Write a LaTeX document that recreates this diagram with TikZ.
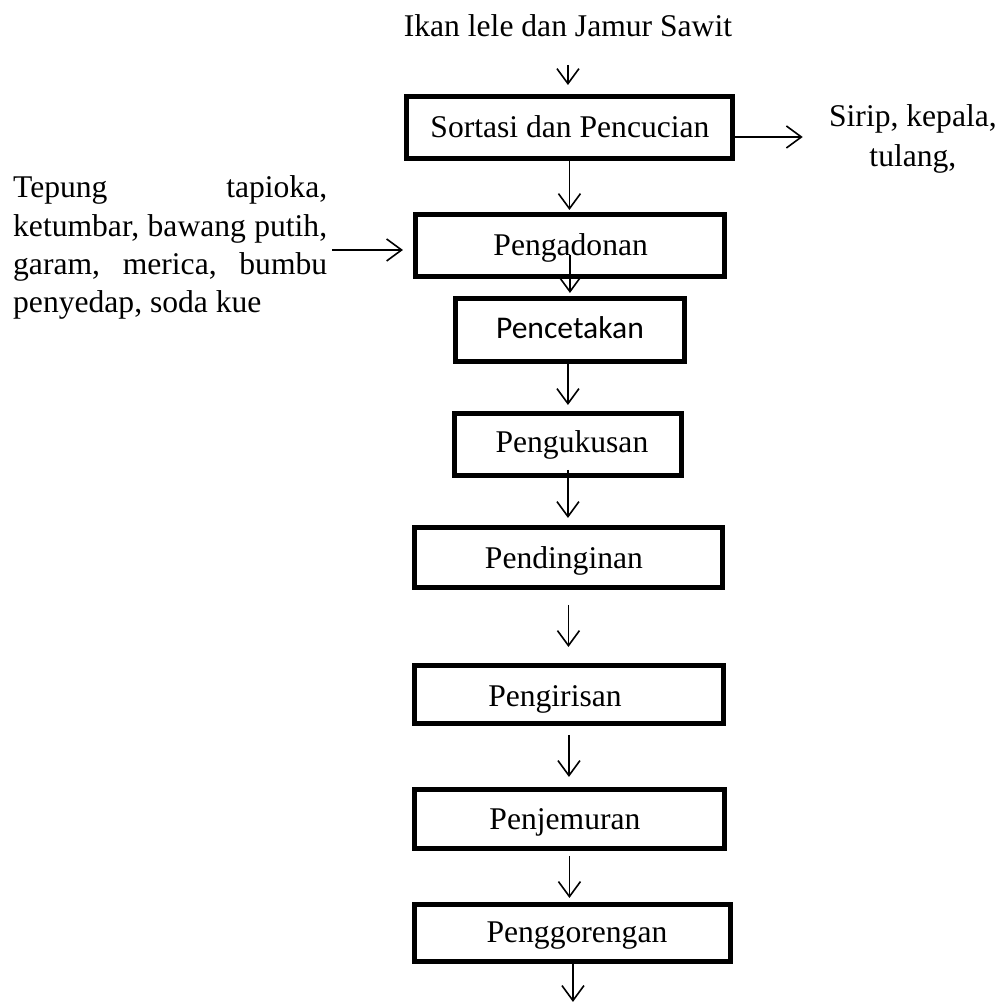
\documentclass[tikz,border=0pt]{standalone}
\usepackage{fontspec}
\setmainfont{Liberation Serif}
\newfontfamily\calibrifont{Carlito}
\usetikzlibrary{arrows.meta,calc}
\begin{document}
\begin{tikzpicture}[x=1pt,y=-1pt,
  box/.style={draw,line width=4.8pt,inner sep=0pt,rectangle},
  lbl/.style={anchor=base,inner sep=0pt,font=\fontsize{31.6}{38}\selectfont},
  arr/.style={line width=1.6pt,-{Straight Barb[length=15pt,width=22pt]}}]
\path[fill=white] (0,0) rectangle (1002,1003);

% boxes
\node[box,minimum width=326.2pt,minimum height=62.2pt] (b1) at (569.5,127.5) {};
\node[box,minimum width=309.2pt,minimum height=62.2pt] (b2) at (570,245.5) {};
\node[box,minimum width=229.2pt,minimum height=63.2pt] (b3) at (570,330) {};
\node[box,minimum width=227.2pt,minimum height=62.2pt] (b4) at (568,444.5) {};
\node[box,minimum width=308.2pt,minimum height=60.2pt] (b5) at (568.5,557.5) {};
\node[box,minimum width=309.2pt,minimum height=58.2pt] (b6) at (569,694.5) {};
\node[box,minimum width=310.2pt,minimum height=59.2pt] (b7) at (569.5,819) {};
\node[box,minimum width=316.2pt,minimum height=57.2pt] (b8) at (572.5,933) {};

% texts
\node[lbl] (title) at (568,37) {Ikan lele dan Jamur Sawit};
\node[lbl] (t1) at (570,138) {Sortasi dan Pencucian};
\node[lbl] (t2) at (570.7,256) {Pengadonan};
\node[lbl,font=\fontsize{31.6}{38}\calibrifont] (t3) at (570,339) {Pencetakan};
\node[lbl] (t4) at (572,453) {Pengukusan};
\node[lbl] (t5) at (564,569) {Pendinginan};
\node[lbl] (t6) at (555,707) {Pengirisan};
\node[lbl] (t7) at (565,830) {Penjemuran};
\node[lbl] (t8) at (577,943) {Penggorengan};

\node[lbl,anchor=base west] (ing) at (13,198) {\parbox[t]{314pt}{\fontsize{31.6}{38.3}\selectfont
\makebox[314pt][s]{Tepung tapioka,}\\
\makebox[314pt][s]{ketumbar, bawang putih,}\\
\makebox[314pt][s]{garam, merica, bumbu}\\
penyedap, soda kue}};

\node[lbl] (sirip) at (913,127) {\parbox[t]{170pt}{\centering\fontsize{31.6}{40}\selectfont Sirip, kepala,\\ tulang,}};

% connectors
\draw[arr,shorten >=9pt] ([yshift=-28pt]title.base) -- (title.base |- b1.north);
\draw[arr,shorten >=2pt] (b1.south) -- (b1.south |- b2.north);
\draw[arr,shorten >=3pt] ([yshift=-10pt]b2.center) -- (b2.center |- b3.north);
\draw[arr,shorten >=6pt] (b4.north |- b3.south) -- (b4.north);
\draw[arr,shorten >=7pt] ([yshift=8pt]b4.south) -- (b4.south |- b5.north);
\draw[arr,shorten <=15pt,shorten >=16pt] (b5.south) -- (b5.south |- b6.north);
\draw[arr,shorten <=9pt,shorten >=10pt] (b6.south) -- (b6.south |- b7.north);
\draw[arr,shorten <=5pt,shorten >=4pt] (b7.south) -- (b7.south |- b8.north);
\coordinate (end) at (573,1002);
\draw[arr] (b8.south -| end) -- (end);

\coordinate (q) at ($(b1.east)+(0,9.5)$);
\draw[arr,shorten >=25pt] (q) -- (q -| sirip.west);
\coordinate (p) at ($(b2.west)+(0,4.5)$);
\draw[arr,shorten <=5pt,shorten >=10pt] (p -| ing.east) -- (p);
\end{tikzpicture}
\end{document}
